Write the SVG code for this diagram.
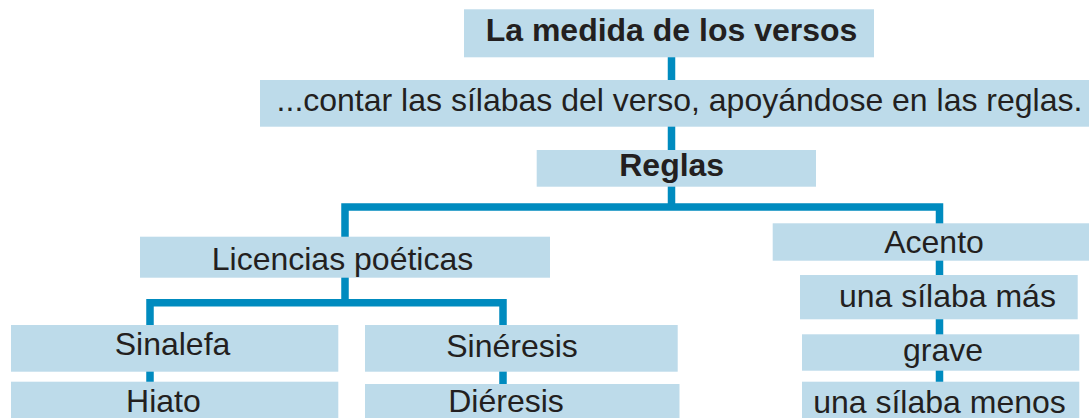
<svg xmlns="http://www.w3.org/2000/svg" width="1089" height="418" viewBox="0 0 1089 418">
<style>
.box{fill:#bddbea;}
.t{font-family:"Liberation Sans",Arial,Helvetica,sans-serif;font-size:32px;fill:#231f20;text-anchor:middle;}
.b{font-weight:bold;}
.c{fill:none;stroke:#008bbf;stroke-width:7.5;stroke-linejoin:miter;stroke-linecap:butt;}
</style>
<rect width="1089" height="418" fill="#ffffff"/>
<g id="connectors">
<path class="c" d="M671.5,57 V80 M671.5,126 V150 M671.5,186 V207"/>
<path class="c" d="M345,237 V207 H939.5 V390"/>
<path class="c" d="M345,277 V302.7 M150,330 V302.7 H503 V330"/>
<path class="c" d="M150,370 V384 M503,370 V386"/>
</g>
<g id="n-title"><rect class="box" x="464" y="9.3" width="410" height="48"/><text class="t b" x="671.5" y="40.5">La medida de los versos</text></g>
<g id="n-contar"><rect class="box" x="260" y="80" width="829" height="46.7"/><text class="t" x="679.5" y="110.5">...contar las sílabas del verso, apoyándose en las reglas.</text></g>
<g id="n-reglas"><rect class="box" x="536.7" y="150" width="279.3" height="36.7"/><text class="t b" x="671.7" y="176">Reglas</text></g>
<g id="n-licencias"><rect class="box" x="140" y="236.7" width="410" height="41"/><text class="t" x="342.5" y="270">Licencias poéticas</text></g>
<g id="n-acento"><rect class="box" x="772.7" y="223.3" width="316.3" height="37.4"/><text class="t" x="934" y="252.7">Acento</text></g>
<g id="n-mas"><rect class="box" x="800" y="275" width="277.7" height="44.3"/><text class="t" x="947.4" y="306.7">una sílaba más</text></g>
<g id="n-grave"><rect class="box" x="802" y="334.3" width="277.3" height="36.4"/><text class="t" x="943" y="360.5">grave</text></g>
<g id="n-menos"><rect class="box" x="802" y="381.7" width="277.3" height="40"/><text class="t" x="939.5" y="413">una sílaba menos</text></g>
<g id="n-sinalefa"><rect class="box" x="11" y="325" width="327.3" height="46.7"/><text class="t" x="172.5" y="355">Sinalefa</text></g>
<g id="n-hiato"><rect class="box" x="11" y="381.7" width="327.3" height="40"/><text class="t" x="163.4" y="412">Hiato</text></g>
<g id="n-sineresis"><rect class="box" x="365" y="325" width="312.7" height="46.7"/><text class="t" x="512" y="357">Sinéresis</text></g>
<g id="n-dieresis"><rect class="box" x="365" y="384" width="314.5" height="38"/><text class="t" x="506" y="412">Diéresis</text></g>
</svg>
